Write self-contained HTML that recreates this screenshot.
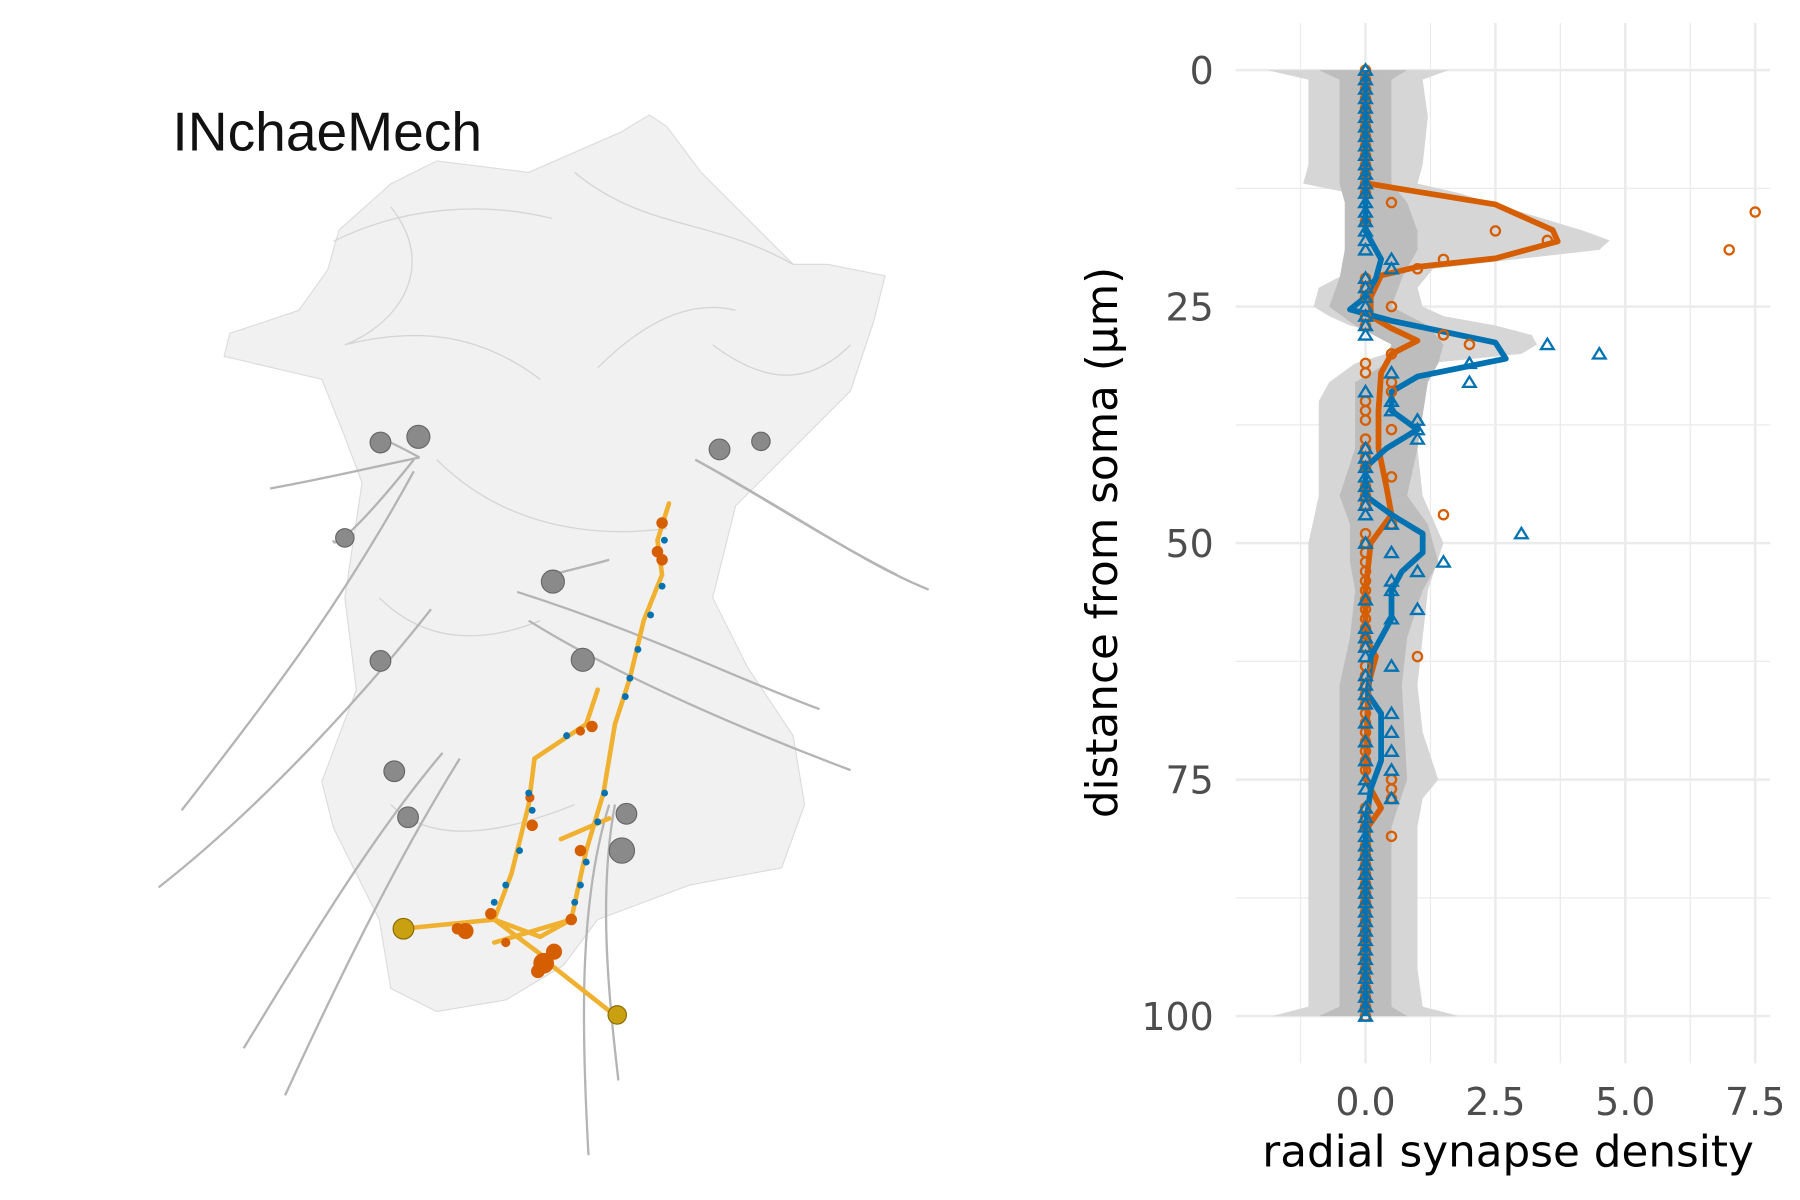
<!DOCTYPE html>
<html><head><meta charset="utf-8"><style>html,body{margin:0;padding:0;background:#fff}svg{display:block}</style></head>
<body>
<svg id="fig" width="1800" height="1200" viewBox="0 0 1566 1044" xmlns="http://www.w3.org/2000/svg">
<g id="left">
  <path fill="#efefef" fill-opacity="0.85" stroke="#dcdcdc" stroke-width="1"
    d="M565,100 L540,115 L460,150 L380,140 L340,160 L295,200 L285,235 L260,270 L200,290 L195,310 L280,330 L300,380 L315,420 L300,520 L310,600 L280,680 L290,720 L330,800 L340,860 L380,880 L440,870 L490,840 L520,800 L600,770 L680,755 L700,700 L690,640 L650,580 L620,520 L640,440 L700,380 L740,340 L760,280 L770,240 L720,230 L690,230 L640,180 L610,150 L580,110 Z"/>
  <path fill="none" stroke="#cfcfcf" stroke-width="1.2" opacity="0.8"
    d="M290,210 C350,180 420,175 480,190 M500,150 C560,200 620,190 690,230 M300,300 C380,280 430,300 470,330 M380,400 C430,450 500,470 580,460 M620,300 C660,330 700,340 740,300 M340,180 C380,230 350,280 300,300 M520,320 C560,280 600,260 640,270 M330,520 C370,560 420,560 470,540 M340,700 C380,740 450,720 500,700"/>
  <g fill="none" stroke="#b4b4b4" stroke-width="2">
    <path d="M235,425 C290,415 330,405 365,398"/>
    <path d="M360,400 C320,450 290,480 290,470"/>
    <path d="M330,380 C350,390 360,395 365,398"/>
    <path d="M360,410 C300,520 240,600 158,705"/>
    <path d="M375,530 C320,600 230,700 138,772"/>
    <path d="M605,400 C680,440 750,490 808,513"/>
    <path d="M605,400 C660,430 720,470 780,500"/>
    <path d="M450,515 C560,550 640,590 713,617"/>
    <path d="M460,540 C540,590 660,640 740,670"/>
    <path d="M385,655 C330,720 280,800 212,912"/>
    <path d="M400,660 C350,740 300,840 248,953"/>
    <path d="M530,700 C505,780 505,880 512,1005"/>
    <path d="M535,700 C520,780 530,870 538,940"/>
    <path d="M480,500 C500,495 520,490 530,487"/>
  </g>
  <g fill="#8a8a8a" stroke="#666" stroke-width="1">
    <circle cx="331" cy="385" r="9"/><circle cx="364" cy="380" r="10"/><circle cx="626" cy="391" r="9"/><circle cx="662" cy="384" r="8"/>
    <circle cx="300" cy="468" r="8"/><circle cx="481" cy="506" r="10"/><circle cx="331" cy="575" r="9"/><circle cx="507" cy="574" r="10"/>
    <circle cx="343" cy="671" r="9"/><circle cx="355" cy="711" r="9"/><circle cx="545" cy="708" r="9"/><circle cx="541" cy="740" r="11"/>
  </g>
  <g>
    <path fill="none" stroke="#f0b030" stroke-width="4" stroke-linecap="round"
      d="M582,438 L572,470 L576,500 L560,540 L548,590 L535,630 L525,690 L510,740 L497,800 L470,815 L430,800 L350,808 M497,800 L430,820 M520,600 L510,630 L465,660 L460,700 L445,760 L430,800 M430,800 L470,830 L480,840 L537,885 M488,730 L530,712"/>
    <g fill="#d55e00">
      <circle cx="576" cy="455" r="5"/><circle cx="572" cy="480" r="5"/><circle cx="576" cy="487" r="5"/><circle cx="515" cy="632" r="5"/><circle cx="505" cy="636" r="4"/>
      <circle cx="463" cy="718" r="5"/><circle cx="461" cy="694" r="4"/><circle cx="505" cy="740" r="5"/><circle cx="497" cy="800" r="5"/><circle cx="427" cy="795" r="5"/>
      <circle cx="405" cy="810" r="7"/><circle cx="398" cy="808" r="5"/><circle cx="473" cy="838" r="9"/><circle cx="482" cy="828" r="7"/><circle cx="468" cy="845" r="6"/><circle cx="440" cy="820" r="4"/>
    </g>
    <g fill="#0072b2">
      <circle cx="578" cy="470" r="3"/><circle cx="576" cy="510" r="3"/><circle cx="566" cy="535" r="3"/><circle cx="555" cy="565" r="3"/><circle cx="548" cy="590" r="3"/><circle cx="544" cy="606" r="3"/>
      <circle cx="526" cy="690" r="3"/><circle cx="520" cy="715" r="3"/><circle cx="510" cy="750" r="3"/><circle cx="505" cy="770" r="3"/><circle cx="500" cy="785" r="3"/>
      <circle cx="460" cy="690" r="3"/><circle cx="463" cy="705" r="3"/><circle cx="452" cy="740" r="3"/><circle cx="440" cy="770" r="3"/><circle cx="430" cy="785" r="3"/><circle cx="493" cy="640" r="3"/>
    </g>
    <circle cx="351" cy="808" r="9" fill="#c9a010" stroke="#8a6a00"/><circle cx="537" cy="883" r="8" fill="#c9a010" stroke="#8a6a00"/>
  </g>
  <text x="150" y="131" font-family="Liberation Sans, sans-serif" font-size="48" fill="#111">INchaeMech</text>
</g>
<g id="chart"></g>
</svg>
<script>
const depths=[];for(let i=0;i<=100;i++)depths.push(i);
const orangePts=[0,0,0,0,0,0,0,0,0,0,0,0,0,0,0.5,7.5,0,2.5,3.5,7.0,1.5,1.0,0,0,0,0.5,0,0,1.5,2.0,0.5,0,0,0.5,0.5,0,0,0,0.5,0,0,0,0,0.5,0,0,0,1.5,0.5,0,0,0,0,0,0,0,0,0,0,0,0,0,1.0,0,0,0,0,0,0,0,0,0,0,0,0,0.5,0.5,0.5,0,0,0,0.5,0,0,0,0,0,0,0,0,0,0,0,0,0,0,0,0,0,0,0];
const bluePts=[0,0,0,0,0,0,0,0,0,0,0,0,0,0,0,0,0,0,0,0,0.5,0.5,0,0,0,0,0,0,0,3.5,4.5,2.0,0.5,2.0,0,0.5,0.5,1.0,1.0,1.0,0,0,0,0,0,0,0,0,0.5,3.0,0,0.5,1.5,1.0,0.5,0.5,0,1.0,0.5,0,0,0,0,0.5,0,0,0,0,0.5,0,0.5,0,0.5,0,0.5,0,0,0.5,0,0,0,0,0,0,0,0,0,0,0,0,0,0,0,0,0,0,0,0,0,0,0];
const orangeLineD=[0,11,12,14.2,16.9,18.1,19.9,20.8,21.7,24,26,27.3,28.6,30,32,36,40,44,47,50,55,60,62,65,75,77,78,80,100];
const orangeLineV=[0,0,0.05,2.5,3.6,3.7,2.5,1.0,0.3,0.1,0.1,0.5,1.0,0.5,0.3,0.25,0.25,0.4,0.5,0.1,0,0,0.2,0.05,0,0.2,0.3,0.05,0];
const blueLineD=[0,17,20,22,24,25.3,26.5,28.8,30.5,32.4,34,36,38,40,42,45,47,49,51,53,55,58,59,62,66,68,73,76,80,100];
const blueLineV=[0,0,0.3,0.2,0,-0.3,0.5,2.5,2.7,1.0,0.5,0.5,1.0,0.4,0,0,0.5,1.1,1.1,0.7,0.5,0.5,0.4,0.1,0.05,0.3,0.3,0.1,0,0];
const outerD=[0,1,5,10,12,13,15,17,18,19,21,23,25,26,27,28,29,30,31,33,35,40,45,50,55,60,65,70,75,77,80,85,90,95,99,100];
const outerLo=[-1.9,-1.1,-1.1,-1.1,-1.2,-0.3,-0.2,-0.1,0,-0.1,-0.2,-0.9,-1.0,-0.7,-0.3,0.4,0.5,0.4,-0.2,-0.7,-0.9,-0.9,-0.9,-1.1,-1.1,-1.1,-1.1,-1.1,-1.1,-1.1,-1.1,-1.1,-1.1,-1.1,-1.1,-1.8];
const outerHi=[1.6,1.1,1.2,1.1,1.0,1.8,3.0,4.2,4.7,4.5,1.3,1.0,1.1,1.5,2.5,3.2,3.3,3.0,1.2,1.0,1.1,1.0,1.1,1.5,1.2,1.1,1.0,1.1,1.4,1.1,1.0,1.0,1.0,1.0,1.1,1.8];
const innerD=[0,1,12,14,17,19,22,25,27,29,31,33,40,45,48,52,55,60,65,75,80,99,100];
const innerLo=[-0.9,-0.5,-0.5,-0.4,-0.4,-0.4,-0.5,-0.7,-0.2,0.5,0.4,-0.2,-0.2,-0.5,-0.3,-0.3,-0.2,-0.3,-0.5,-0.5,-0.5,-0.5,-0.9];
const innerHi=[0.8,0.5,0.5,0.8,1.0,1.0,0.7,0.5,1.2,1.5,1.4,1.2,1.0,0.8,1.2,1.4,1.1,0.8,0.7,0.8,0.5,0.5,0.8];
const xTicks=[0,2.5,5,7.5];const xTickLabels=["0.0","2.5","5.0","7.5"];
const yTicks=[0,25,50,75,100];const yTickLabels=["0","25","50","75","100"];

const X=v=>1188+45.2*v, Y=d=>61+8.23*d;
const NS="http://www.w3.org/2000/svg", chart=document.getElementById('chart');
function mk(tag,attrs,parent){const e=document.createElementNS(NS,tag);for(const k in attrs)e.setAttribute(k,attrs[k]);(parent||chart).appendChild(e);return e;}
for(let v=-1.25;v<=7.6;v+=1.25){const major=Math.abs(v/2.5-Math.round(v/2.5))<1e-6;
 const l=mk('line',{x1:X(v),x2:X(v),y1:20,y2:925,stroke:'#ebebeb','stroke-width':major?2.2:1.1});
 
 }
for(let d=0;d<=100;d+=12.5){const major=d%25===0;
 const l=mk('line',{x1:1075,x2:1540,y1:Y(d),y2:Y(d),stroke:'#ebebeb','stroke-width':major?2.2:1.1});
 
 }
function band(D,lo,hi,fill,name){let p='M'+D.map((d,i)=>X(lo[i])+','+Y(d)).join(' L');
 for(let i=D.length-1;i>=0;i--)p+=' L'+X(hi[i])+','+Y(D[i]);
 const e=mk('path',{d:p+'Z',fill:fill});
 
 }
band(outerD,outerLo,outerHi,'#d6d6d6','null-band-outer');
band(innerD,innerLo,innerHi,'#bdbdbd','null-band-inner');
function line(D,V,col,name){const e=mk('path',{d:'M'+D.map((d,i)=>X(V[i])+','+Y(d)).join(' L'),fill:'none',stroke:col,'stroke-width':5,'stroke-linejoin':'round'});
 
 }
line(orangeLineD,orangeLineV,'#D55E00','output-density-line');
line(blueLineD,blueLineV,'#0072B2','input-density-line');
depths.forEach((d,i)=>{const c=mk('circle',{cx:X(orangePts[i]),cy:Y(d),r:4,fill:'none',stroke:'#D55E00','stroke-width':2});
 
 });
depths.forEach((d,i)=>{const x=X(bluePts[i]),y=Y(d);
 const t=mk('path',{d:`M${x},${y-5} L${x+5.5},${y+4} L${x-5.5},${y+4} Z`,fill:'none',stroke:'#0072B2','stroke-width':2});
 
 });
const F='DejaVu Sans, Liberation Sans, sans-serif';
xTicks.forEach((v,i)=>{const t=mk('text',{x:X(v),y:970,'text-anchor':'middle','font-family':F,'font-size':33,fill:'#4d4d4d'});t.textContent=xTickLabels[i];
 
 });
yTicks.forEach((d,i)=>{const t=mk('text',{x:1056,y:Y(d)+12,'text-anchor':'end','font-family':F,'font-size':33,fill:'#4d4d4d'});t.textContent=yTickLabels[i];
 
 });
const xt=mk('text',{x:1312,y:1015,'text-anchor':'middle','font-family':F,'font-size':38,fill:'#000'});xt.textContent='radial synapse density';


const yt=mk('text',{x:0,y:0,transform:'translate(972,472) rotate(-90)','text-anchor':'middle','font-family':F,'font-size':38,fill:'#000'});yt.textContent='distance from soma (µm)';


</script>
</body></html>
